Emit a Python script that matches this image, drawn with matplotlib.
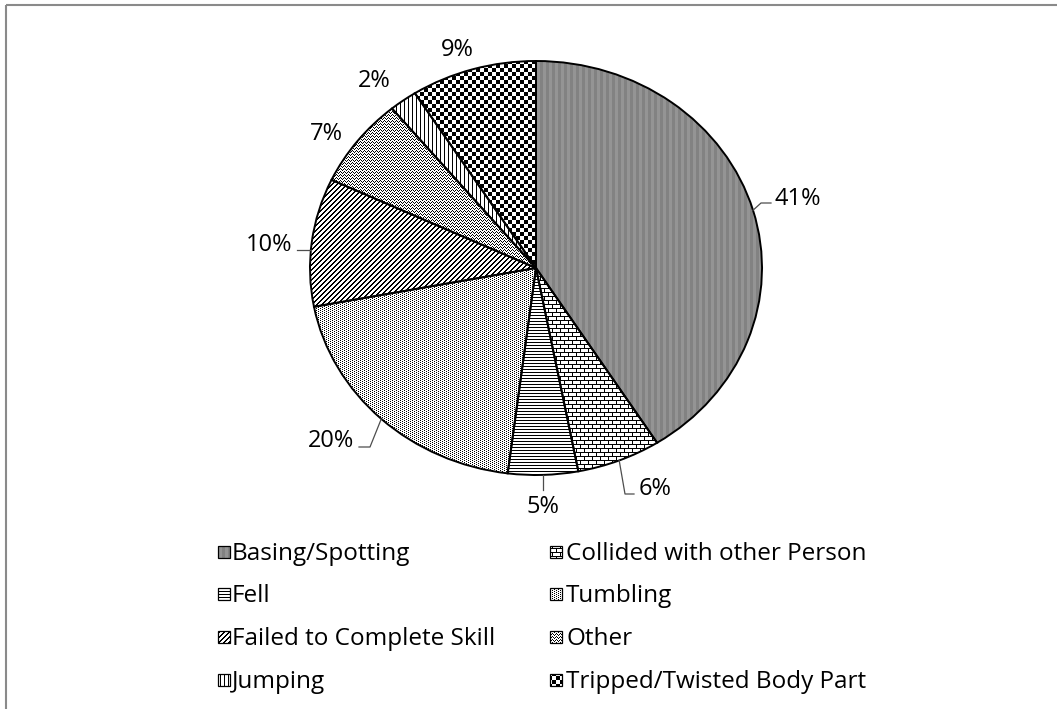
import numpy as np
import matplotlib
matplotlib.use("Agg")
import matplotlib.pyplot as plt
from matplotlib import transforms as mtransforms
from matplotlib.patches import Rectangle
from matplotlib.lines import Line2D

# ---- data -------------------------------------------------------------
categories = ["Basing/Spotting", "Collided with other Person", "Fell", "Tumbling",
              "Failed to Complete Skill", "Other", "Jumping",
              "Tripped/Twisted Body Part"]
shares = [41, 6, 5, 20, 10, 7, 2, 9]
fills = ["grey_stipple", "brick", "hlines", "dots", "updiag", "zigzag",
         "vlines", "checker"]

# ---- layout (pixels, measured from the top-left corner) ---------------
W, H = 1057, 709
PIE_BOX = (310, 61, 762, 475)          # left, top, right, bottom
# label centre x, baseline y
LABEL_POS = [(798, 205), (655, 495), (543, 513), (331, 447),
             (269, 251), (326, 140), (374, 87), (457, 56)]
# leader lines: ("bend", elbow, end) | ("flat", end) | ("down", end) | None
LEADERS = [("bend", (761, 203), (771, 203)),
           ("bend", (625, 494), (634, 494)),
           ("down", (543, 490)),
           ("bend", (370, 447), (359, 447)),
           ("flat", (297, 250)),
           None, None, None]
LEGEND_X = [(218, 232), (550, 566)]    # marker left, text left
LEGEND_BASE = [560, 602, 645, 688]     # text baselines
MARK = 12

plt.rcParams['font.family'] = ['Open Sans', 'DejaVu Sans']
TEXT_COLOR = '#000000'

fig = plt.figure(figsize=(W / 100, H / 100), dpi=100)
pix = mtransforms.Affine2D().scale(1 / W, -1 / H).translate(0, 1) + fig.transFigure

l, t, r, b = PIE_BOX
ax = fig.add_axes([l / W, 1 - b / H, (r - l) / W, (b - t) / H])
wedges, _ = ax.pie(shares, startangle=90, counterclock=False, radius=1,
                   wedgeprops=dict(facecolor='none', edgecolor='black',
                                   linewidth=1.4))
ax.set_aspect('auto')
ax.set_xlim(-1, 1)
ax.set_ylim(-1, 1)
ax.axis('off')


# ---- monochrome fill textures on the pixel grid (ink coverage 0..1) ---
def texture(kind, yy, xx):
    if kind == "grey_stipple":
        return np.where(xx % 6 < 3, 0.49, 0.42)
    if kind == "brick":
        m = (yy % 4 == 0) | ((xx + 4 * ((yy // 4) % 2)) % 8 == 0)
    elif kind == "hlines":
        m = yy % 3 == 0
    elif kind == "dots":
        m = ((yy % 2 == 0) & (xx % 4 == 0)) | ((yy % 2 == 1) & (xx % 4 == 2))
    elif kind == "updiag":
        m = (xx + yy) % 5 < 2
    elif kind == "zigzag":
        tri = np.array([0, 1, 2, 1])[xx % 4]
        m = (yy - tri) % 3 == 0
    elif kind == "vlines":
        m = xx % 4 == 0
    elif kind == "checker":
        m = ((xx // 4) + (yy // 4)) % 2 == 0
    else:
        raise ValueError(kind)
    return m.astype(float)


def to_rgb(ink):
    g = np.round(255 * (1 - ink)).astype(np.uint8)
    return np.dstack([g, g, g])


yy, xx = np.mgrid[0:H, 0:W]
for wedge, kind in zip(wedges, fills):
    im = fig.figimage(to_rgb(texture(kind, yy, xx)), xo=0, yo=0,
                      origin='upper', zorder=-1)
    im.set_clip_path(wedge)

# ---- percentage labels with leader lines ------------------------------
to_pix = ax.transData + pix.inverted()
bounds = np.cumsum([0] + shares) / sum(shares)
for i, (v, (lx, ly), lead) in enumerate(zip(shares, LABEL_POS, LEADERS)):
    fig.text(lx, ly, f"{v}%", transform=pix, ha='center', va='baseline',
             fontsize=17, color=TEXT_COLOR)
    if lead is None:
        continue
    mid = np.deg2rad(90 - 360 * (bounds[i] + bounds[i + 1]) / 2)
    start = to_pix.transform((np.cos(mid), np.sin(mid)))
    if lead[0] == "bend":
        pts = [start, lead[1], lead[2]]
    elif lead[0] == "down":
        pts = [start, (start[0], lead[1][1])]
    else:
        ey = (to_pix.inverted().transform(lead[1]))[1]
        edge = to_pix.transform((-np.sqrt(1 - ey ** 2), ey))
        pts = [edge, lead[1]]
    pts = np.array(pts, dtype=float)
    fig.add_artist(Line2D(pts[:, 0], pts[:, 1], transform=pix,
                          color='#4d4d4d', linewidth=0.9))

# ---- legend (two columns, row-major order) ----------------------------
for k, (name, kind) in enumerate(zip(categories, fills)):
    row, col = divmod(k, 2)
    mx, tx = LEGEND_X[col]
    base = LEGEND_BASE[row]
    my = base - 8 - MARK // 2
    sy, sx = np.mgrid[my:my + MARK, mx:mx + MARK]
    fig.figimage(to_rgb(texture(kind, sy, sx)), xo=mx, yo=H - my - MARK,
                 origin='upper', zorder=-1)
    fig.add_artist(Rectangle((mx, my), MARK, MARK, transform=pix,
                             facecolor='none', edgecolor='black',
                             linewidth=0.9))
    fig.text(tx, base, name, transform=pix, ha='left', va='baseline',
             fontsize=17.5, color=TEXT_COLOR)

# ---- chart-area border -------------------------------------------------
fig.add_artist(Rectangle((6, 5), W + 20, H + 20, transform=pix,
                         facecolor='none', edgecolor='#8a8a8a',
                         linewidth=1.5, clip_on=False))

fig.savefig("out.png", dpi=100)
